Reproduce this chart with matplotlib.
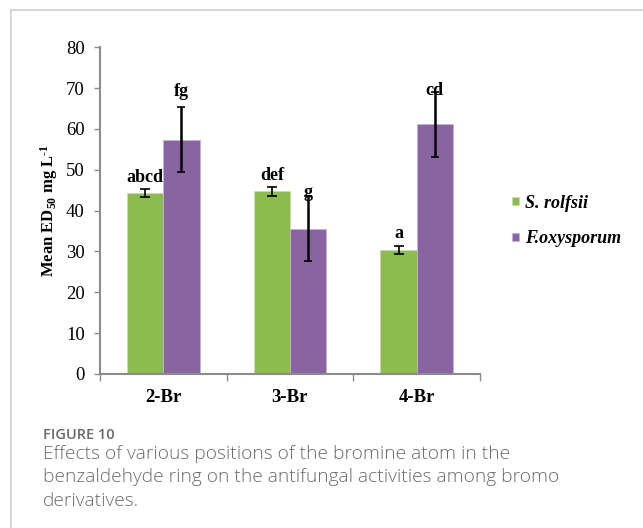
import numpy as np
import matplotlib.pyplot as plt
from matplotlib.lines import Line2D

# ED50 means and error bars for each bromo derivative
positions = ['2-Br', '3-Br', '4-Br']
rolfsii = [44.3, 44.7, 30.3]
rolfsii_err = [1.0, 1.0, 1.0]
oxysporum = [57.4, 35.6, 61.1]
oxysporum_err = [8.0, 7.9, 7.9]

# significance letters and the height they sit at
rolfsii_letters = ['abcd', 'def', 'a']
rolfsii_letter_y = [48.2, 48.7, 34.4]
oxysporum_letters = ['fg', 'g', 'cd']
oxysporum_letter_y = [69.1, 44.5, 69.3]

green = '#8cbb50'
purple = '#8864a3'
axis_grey = '#8c8c8c'
serif = 'Liberation Serif'

plt.rcParams['mathtext.fontset'] = 'custom'
plt.rcParams['mathtext.rm'] = 'Liberation Serif:bold'
plt.rcParams['mathtext.bf'] = 'Liberation Serif:bold'
plt.rcParams['mathtext.default'] = 'bf'

fig = plt.figure(figsize=(6.43, 5.28), dpi=100)

# light frame round the figure
fig.add_artist(Line2D([11 / 643, 1], [1 - 9.5 / 528] * 2, color='#d0d0d0', lw=1.2))
fig.add_artist(Line2D([11 / 643] * 2, [0, 1 - 9.5 / 528], color='#d0d0d0', lw=1.2))

ax = fig.add_axes([100 / 643, 1 - 374 / 528, 380 / 643, (374 - 47.3) / 528])
x = np.arange(len(positions))
w = 0.286

ax.bar(x - w / 2, rolfsii, w, color=green, edgecolor='#c8dfae', linewidth=0.6, label='S. rolfsii')
ax.bar(x + w / 2, oxysporum, w, color=purple, edgecolor='#c5b3d3', linewidth=0.6, label='F.oxysporum')
ax.errorbar(x - w / 2, rolfsii, yerr=rolfsii_err, fmt='none', ecolor='black', elinewidth=1.2,
            capsize=3.5, capthick=1.2)
ax.errorbar(x + w / 2, oxysporum, yerr=oxysporum_err, fmt='none', ecolor='black', elinewidth=1.8,
            capsize=3, capthick=1.2)

for xi, t, yy in zip(x - w / 2, rolfsii_letters, rolfsii_letter_y):
    ax.text(xi, yy, t, ha='center', va='center', family=serif, fontweight='bold', fontsize=13)
for xi, t, yy in zip(x + w / 2, oxysporum_letters, oxysporum_letter_y):
    ax.text(xi, yy, t, ha='center', va='center', family=serif, fontweight='bold', fontsize=13)

ax.set_xlim(-0.5, 2.5)
ax.set_ylim(0, 80)
ax.set_yticks(np.arange(0, 81, 10))
ax.set_xticks([-0.5, 0.5, 1.5, 2.5])
ax.set_xticklabels([])
ax.set_xticks(x, minor=True)
ax.set_xticklabels(positions, minor=True, family=serif, fontweight='bold', fontsize=13.5)
ax.tick_params(axis='x', which='minor', length=0, pad=11)
ax.tick_params(axis='x', which='major', length=5, color=axis_grey, width=1)
ax.tick_params(axis='y', length=4, color=axis_grey, width=1, pad=7)
for lab in ax.get_yticklabels():
    lab.set_family(serif)
    lab.set_fontsize(13.5)

for s in ['top', 'right']:
    ax.spines[s].set_visible(False)
for s in ['left', 'bottom']:
    ax.spines[s].set_color(axis_grey)
    ax.spines[s].set_linewidth(1.5)

ax.set_ylabel(r'Mean ED$_{50}$ mg L$^{\text{-1}}$', family=serif, fontweight='bold', fontsize=12,
              labelpad=4)

ax.legend(loc='center left', bbox_to_anchor=(496 / 643, 1 - 221 / 528),
          bbox_transform=fig.transFigure, frameon=False, handlelength=0.35,
          handleheight=0.35, handletextpad=0.35, labelspacing=1.05,
          prop={'family': serif, 'weight': 'bold', 'style': 'italic', 'size': 13})

fig.text(43 / 643, 1 - 435 / 528, 'FIGURE 10', family='Open Sans', fontsize=10.5,
         color='#6a6a6a', va='center', fontweight='semibold')
caption = ['Effects of various positions of the bromine atom in the',
           'benzaldehyde ring on the antifungal activities among bromo',
           'derivatives.']
for i, line in enumerate(caption):
    fig.text(43 / 643, 1 - (454 + 23.5 * i) / 528, line, family='Open Sans', fontsize=13.8,
             color='#6a6a6a', va='center', fontweight='light')

fig.savefig('out.png', dpi=100)
